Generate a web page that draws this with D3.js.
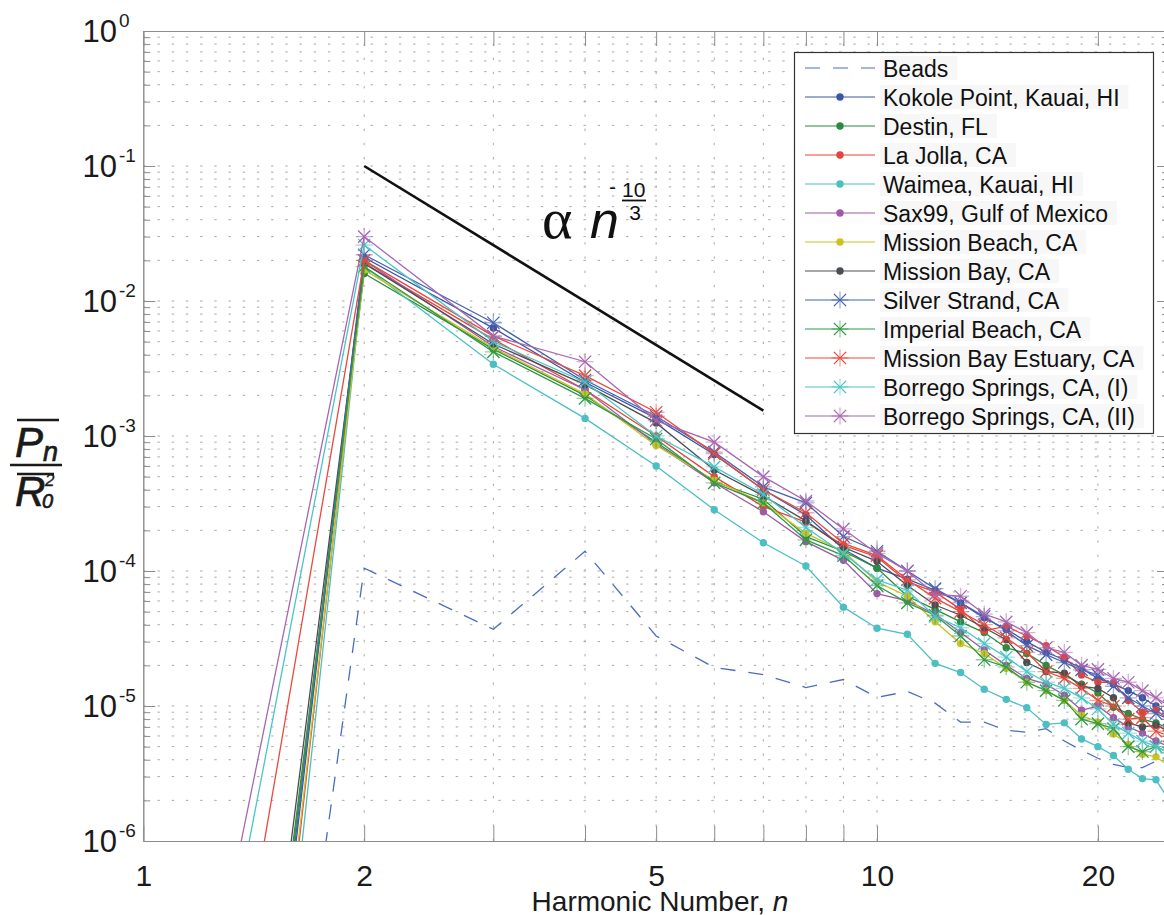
<!DOCTYPE html>
<html>
<head>
<meta charset="utf-8">
<title>Harmonic spectra</title>
<script src="https://cdn.jsdelivr.net/npm/d3@7/dist/d3.min.js"></script>
<style>
	html, body { margin: 0; padding: 0; background: #fff; }
	#chart svg { display: block; font-family: "Liberation Sans", Arial, Helvetica, sans-serif; }
</style>
</head>
<body>
<div id="chart"></div>
<script>
"use strict";

// harmonic number n
var harmonics = [1, 2, 3, 4, 5, 6, 7, 8, 9, 10, 11, 12, 13, 14, 15, 16, 17, 18, 19, 20, 21, 22, 23, 24, 25];

// mean normalised power P_n / R0^2, one list per site
var beads      = [2e-16, 1.05e-4, 3.7e-5, 1.4e-4, 3.3e-5, 1.93e-5, 1.71e-5, 1.37e-5, 1.57e-5, 1.16e-5, 1.28e-5, 1.05e-5, 7.6e-6, 7.6e-6, 6.6e-6, 6.4e-6, 6.8e-6, 5.5e-6, 4.7e-6, 4.1e-6, 3.7e-6, 3.5e-6, 3.5e-6, 3.9e-6, 3.6e-6];
var kokole     = [1.9e-16, 0.021, 6.3e-3, 2.5e-3, 1.35e-3, 7.3e-4, 4.0e-4, 2.6e-4, 1.45e-4, 1.05e-4, 8.7e-5, 7.2e-5, 5.8e-5, 4.5e-5, 3.7e-5, 3.0e-5, 2.5e-5, 2.2e-5, 1.9e-5, 1.6e-5, 1.45e-5, 1.3e-5, 1.15e-5, 1.0e-5, 8.5e-6];
var destin     = [1.3e-15, 0.016, 4.4e-3, 2.0e-3, 9.0e-4, 4.6e-4, 3.4e-4, 1.8e-4, 1.4e-4, 1.05e-4, 6.5e-5, 5.2e-5, 4.2e-5, 3.5e-5, 2.7e-5, 2.45e-5, 2.0e-5, 1.7e-5, 1.45e-5, 1.25e-5, 9.8e-6, 8.8e-6, 8.0e-6, 7.5e-6, 6.8e-6];
var laJolla    = [5.4e-17, 0.019, 5.2e-3, 2.2e-3, 1.0e-3, 5.0e-4, 3.0e-4, 2.3e-4, 1.55e-4, 1.27e-4, 8.3e-5, 7.0e-5, 5.2e-5, 3.6e-5, 3.9e-5, 3.3e-5, 2.8e-5, 2.3e-5, 1.7e-5, 1.5e-5, 1.5e-5, 1.1e-5, 9.0e-6, 9.3e-6, 8.0e-6];
var waimea     = [1.2e-17, 0.018, 3.4e-3, 1.35e-3, 6.0e-4, 2.84e-4, 1.62e-4, 1.09e-4, 5.4e-5, 3.77e-5, 3.4e-5, 2.07e-5, 1.77e-5, 1.33e-5, 1.12e-5, 9.7e-6, 7.3e-6, 7.5e-6, 5.7e-6, 5.0e-6, 4.3e-6, 3.4e-6, 2.9e-6, 2.84e-6, 2.0e-6];
var sax99      = [5.3e-16, 0.020, 4.6e-3, 2.2e-3, 8.7e-4, 4.5e-4, 2.75e-4, 1.65e-4, 1.2e-4, 6.8e-5, 6.0e-5, 4.8e-5, 3.5e-5, 2.6e-5, 2.0e-5, 1.6e-5, 1.45e-5, 1.2e-5, 9.3e-6, 1.0e-5, 8.2e-6, 7.0e-6, 6.3e-6, 5.5e-6, 5.0e-6];
var missBeach  = [1.1e-16, 0.017, 4.5e-3, 2.05e-3, 8.5e-4, 4.7e-4, 3.2e-4, 1.9e-4, 1.4e-4, 8.3e-5, 6.5e-5, 4.2e-5, 2.9e-5, 2.45e-5, 1.9e-5, 1.5e-5, 1.3e-5, 1.1e-5, 8.5e-6, 7.6e-6, 6.2e-6, 5.2e-6, 4.4e-6, 4.2e-6, 3.6e-6];
var missBay    = [2.1e-15, 0.019, 4.8e-3, 2.4e-3, 1.25e-3, 5.6e-4, 3.6e-4, 2.35e-4, 1.5e-4, 1.18e-4, 7.8e-5, 5.6e-5, 4.7e-5, 3.8e-5, 3.1e-5, 2.1e-5, 1.8e-5, 1.75e-5, 1.4e-5, 1.35e-5, 1.15e-5, 7.5e-6, 7.0e-6, 7.2e-6, 6.5e-6];
var silver     = [2.8e-16, 0.022, 6.9e-3, 2.6e-3, 1.4e-3, 7.6e-4, 4.2e-4, 3.2e-4, 1.8e-4, 1.4e-4, 1.0e-4, 7.4e-5, 5.8e-5, 4.6e-5, 3.6e-5, 2.8e-5, 2.4e-5, 2.1e-5, 1.85e-5, 1.7e-5, 1.4e-5, 1.15e-5, 1.0e-5, 8.8e-6, 8.0e-6];
var imperial   = [6.6e-16, 0.018, 4.2e-3, 1.9e-3, 9.5e-4, 4.5e-4, 3.2e-4, 1.7e-4, 1.3e-4, 7.8e-5, 5.8e-5, 4.7e-5, 3.3e-5, 2.2e-5, 1.95e-5, 1.5e-5, 1.3e-5, 1.1e-5, 8.0e-6, 7.4e-6, 6.8e-6, 5.0e-6, 4.6e-6, 5.0e-6, 4.5e-6];
var estuary    = [6e-12, 0.020, 5.5e-3, 2.8e-3, 1.5e-3, 7.4e-4, 4.0e-4, 2.7e-4, 1.6e-4, 1.3e-4, 8.6e-5, 6.3e-5, 5.0e-5, 4.0e-5, 3.2e-5, 2.5e-5, 1.8e-5, 1.6e-5, 1.35e-5, 1.1e-5, 1.0e-5, 8.0e-6, 8.2e-6, 6.5e-6, 6.0e-6];
var borregoI   = [8.5e-11, 0.026, 5.0e-3, 2.5e-3, 1.0e-3, 5.9e-4, 3.7e-4, 2.1e-4, 1.35e-4, 8.6e-5, 7.2e-5, 4.6e-5, 3.8e-5, 2.9e-5, 2.3e-5, 1.8e-5, 1.5e-5, 1.35e-5, 1.15e-5, 9.5e-6, 7.3e-6, 6.3e-6, 5.5e-6, 5.0e-6, 4.5e-6];
var borregoII  = [2.7e-10, 0.030, 5.5e-3, 3.55e-3, 1.3e-3, 9.0e-4, 5.0e-4, 3.3e-4, 2.05e-4, 1.35e-4, 1.0e-4, 6.7e-5, 6.5e-5, 4.8e-5, 4.2e-5, 3.5e-5, 2.7e-5, 2.5e-5, 2.0e-5, 1.87e-5, 1.6e-5, 1.5e-5, 1.3e-5, 1.15e-5, 1.0e-5];

var seriesNames = ["Beads", "Kokole Point, Kauai, HI", "Destin, FL", "La Jolla, CA", "Waimea, Kauai, HI",
	"Sax99, Gulf of Mexico", "Mission Beach, CA", "Mission Bay, CA", "Silver Strand, CA", "Imperial Beach, CA",
	"Mission Bay Estuary, CA", "Borrego Springs, CA, (I)", "Borrego Springs, CA, (II)"];
var seriesData = [beads, kokole, destin, laJolla, waimea, sax99, missBeach, missBay, silver, imperial, estuary, borregoI, borregoII];

// reference power law  alpha n^(-10/3), its two end points
var slopeN = [2, 7];
var slopeP = [0.1, 1.54e-3];

// tick labels
var xTickLabels = [1, 2, 5, 10, 20];
var yTickExponents = [0, -1, -2, -3, -4, -5, -6];

// ---------- styles (kept apart from the data) ----------
var seriesStyle = [
	{ color: "#4a6cc0", marker: "none", dash: "15,13" },
	{ color: "#3a55a4", marker: "dot" },
	{ color: "#2a8a3e", marker: "dot" },
	{ color: "#e8423b", marker: "dot" },
	{ color: "#4bbfc2", marker: "dot" },
	{ color: "#a159a8", marker: "dot" },
	{ color: "#c9c323", marker: "dot" },
	{ color: "#4a4e52", marker: "dot" },
	{ color: "#4463b0", marker: "star" },
	{ color: "#2f9a45", marker: "star" },
	{ color: "#ea4a3c", marker: "star" },
	{ color: "#4cc4c6", marker: "star" },
	{ color: "#a866b0", marker: "star" }
];

var width = 1164, height = 915;
var plot = { left: 143.3, right: 1169, top: 31, bottom: 841 };
var axisGray = "#8c8c8c";
var ink = "#1a1a1a";

var x = d3.scaleLog().domain([1, 25]).range([plot.left, plot.right]);
var y = d3.scaleLog().domain([1e-6, 1]).range([plot.bottom, plot.top]);

var svg = d3.select("#chart").append("svg")
	.attr("width", width)
	.attr("height", height);

svg.append("defs").append("clipPath").attr("id", "plotClip")
	.append("rect")
	.attr("x", plot.left).attr("y", plot.top)
	.attr("width", plot.right - plot.left).attr("height", plot.bottom - plot.top);

function drawGrid() {
	var grid = svg.append("g").attr("class", "grid");
	// vertical dotted lines on every log tick
	grid.selectAll("line.gx")
		.data(x.ticks().filter(function(d) { return d > 1; }))
		.enter().append("line")
		.attr("class", "gx")
		.attr("x1", function(d) { return x(d); }).attr("x2", function(d) { return x(d); })
		.attr("y1", plot.bottom).attr("y2", plot.top)
		.attr("stroke", "#a8a8a8").attr("stroke-width", 1)
		.attr("stroke-dasharray", "2.4,11.8");
	// horizontal dotted lines
	grid.selectAll("line.gy")
		.data(y.ticks().filter(function(d) { return d > 1.01e-6 && d < 0.99; }))
		.enter().append("line")
		.attr("class", "gy")
		.attr("x1", plot.left).attr("x2", plot.right)
		.attr("y1", function(d) { return y(d); }).attr("y2", function(d) { return y(d); })
		.attr("stroke", "#a8a8a8").attr("stroke-width", 1)
		.attr("stroke-dasharray", "2.4,11.8");
}

function isDecade(d) {
	var e = Math.log10(d);
	return Math.abs(e - Math.round(e)) < 1e-6;
}

function styleAxis(g) {
	g.select(".domain").attr("stroke", axisGray);
	g.selectAll(".tick line").attr("stroke", axisGray);
}

function drawAxes() {
	var xt = x.ticks();
	var yt = y.ticks();

	// bottom and top
	svg.append("g").attr("transform", "translate(0," + plot.bottom + ")")
		.call(d3.axisBottom(x).tickValues(xt).tickSize(-15).tickSizeOuter(0).tickFormat(""))
		.call(styleAxis);
	svg.append("g").attr("transform", "translate(0," + plot.top + ")")
		.call(d3.axisTop(x).tickValues(xt).tickSize(-15).tickSizeOuter(0).tickFormat(""))
		.call(styleAxis);

	// tick labels on x
	var xl = svg.append("g").attr("transform", "translate(0," + plot.bottom + ")")
		.call(d3.axisBottom(x).tickValues(xTickLabels).tickSize(0).tickPadding(24).tickFormat(d3.format("d")));
	xl.select(".domain").remove();
	xl.selectAll("text")
		.attr("font-size", 30)
		.attr("font-family", "Liberation Sans, Arial, sans-serif")
		.attr("fill", ink);

	// left and right, major ticks longer than minor
	[[plot.left, d3.axisLeft], [plot.right, d3.axisRight]].forEach(function(side) {
		svg.append("g").attr("transform", "translate(" + side[0] + ",0)")
			.call(side[1](y).tickValues(yt.filter(function(d) { return !isDecade(d); }))
				.tickSize(-7).tickSizeOuter(0).tickFormat(""))
			.call(styleAxis);
		svg.append("g").attr("transform", "translate(" + side[0] + ",0)")
			.call(side[1](y).tickValues(yt.filter(isDecade)).tickSize(-12).tickSizeOuter(0).tickFormat(""))
			.call(styleAxis);
	});

	// y tick labels as 10 with a raised exponent
	var lab = svg.append("g").attr("class", "ylabels")
		.selectAll("g").data(yTickExponents).enter().append("g")
		.attr("transform", function(e) { return "translate(0," + y(Math.pow(10, e)) + ")"; });
	lab.append("text")
		.attr("x", 117).attr("y", 11)
		.attr("text-anchor", "end")
		.attr("font-size", 31).attr("fill", ink)
		.text("10");
	lab.append("text")
		.attr("x", 119).attr("y", -4)
		.attr("font-size", 19).attr("fill", ink)
		.text(function(e) { return String(e); });

	// x title
	var xTitle = svg.append("text")
		.attr("x", 660).attr("y", 911)
		.attr("text-anchor", "middle")
		.attr("font-size", 28).attr("fill", ink);
	xTitle.append("tspan").text("Harmonic Number, ");
	xTitle.append("tspan").attr("font-style", "italic").text("n");

	// y title:  overline(P_n) / overline(R_0^2)
	var yTitle = svg.append("g").attr("class", "ytitle")
		.attr("fill", ink).attr("stroke", ink).attr("stroke-width", 0.7);
	yTitle.append("text").attr("x", 15).attr("y", 457)
		.attr("font-size", 42).attr("font-style", "italic").text("P");
	yTitle.append("text").attr("x", 43).attr("y", 461)
		.attr("font-size", 27).attr("font-style", "italic").text("n");
	yTitle.append("line").attr("x1", 17).attr("x2", 59).attr("y1", 420).attr("y2", 420)
		.attr("stroke-width", 2.4);
	yTitle.append("line").attr("x1", 10).attr("x2", 62).attr("y1", 465).attr("y2", 465)
		.attr("stroke-width", 2.4);
	yTitle.append("line").attr("x1", 17).attr("x2", 54).attr("y1", 474).attr("y2", 474)
		.attr("stroke-width", 2.4);
	yTitle.append("text").attr("x", 15).attr("y", 506)
		.attr("font-size", 42).attr("font-style", "italic").text("R");
	yTitle.append("text").attr("x", 42).attr("y", 508)
		.attr("font-size", 20).attr("font-style", "italic").text("0");
	yTitle.append("text").attr("x", 45).attr("y", 486)
		.attr("font-size", 17).attr("font-style", "italic").attr("stroke-width", 0.3).text("2");
}

function starPath(s) {
	var d = s * 0.72;
	return "M" + (-d) + "," + (-d) + "L" + d + "," + d + "M" + (-d) + "," + d + "L" + d + "," + (-d);
}
function plusPath(s) {
	return "M" + (-s) + ",0L" + s + ",0M0," + (-s) + "L0," + s;
}

function drawMarker(sel, style) {
	if (style.marker === "dot") {
		sel.append("circle").attr("r", 3.7).attr("fill", style.color);
	} else if (style.marker === "star") {
		sel.append("path").attr("d", plusPath(8.5))
			.attr("stroke", style.color).attr("stroke-width", 1.3).attr("stroke-opacity", 0.5).attr("fill", "none");
		sel.append("path").attr("d", starPath(8.5))
			.attr("stroke", style.color).attr("stroke-width", 1.3).attr("fill", "none");
	}
}

function drawSeries() {
	var layer = svg.append("g").attr("clip-path", "url(#plotClip)");
	var line = d3.line()
		.x(function(d) { return x(d[0]); })
		.y(function(d) { return y(d[1]); });

	seriesData.forEach(function(values, i) {
		var style = seriesStyle[i];
		var pts = harmonics.map(function(n, j) { return [n, values[j]]; });
		var g = layer.append("g").attr("class", "series s" + i);
		g.append("path")
			.datum(pts)
			.attr("d", line)
			.attr("fill", "none")
			.attr("stroke", style.color)
			.attr("stroke-width", 1.3)
			.attr("stroke-dasharray", style.dash || null);
		if (style.marker !== "none") {
			g.selectAll("g.m").data(pts.filter(function(p) { return p[1] >= 1e-6; }))
				.enter().append("g").attr("class", "m")
				.attr("transform", function(p) { return "translate(" + x(p[0]) + "," + y(p[1]) + ")"; })
				.each(function() { drawMarker(d3.select(this), style); });
		}
	});

	// power law guide
	layer.append("path")
		.datum(slopeN.map(function(n, j) { return [n, slopeP[j]]; }))
		.attr("d", line)
		.attr("fill", "none")
		.attr("stroke", "#111")
		.attr("stroke-width", 2.6);
}

function drawAnnotation() {
	var a = svg.append("g").attr("fill", "#111");
	a.append("text").attr("x", 542).attr("y", 238)
		.attr("font-family", "Liberation Serif, Times New Roman, serif")
		.attr("font-size", 58).text("\u03b1");
	a.append("text").attr("x", 590).attr("y", 238)
		.attr("font-size", 52).attr("font-style", "italic").text("n");
	a.append("text").attr("x", 609).attr("y", 194).attr("font-size", 21).text("-");
	a.append("text").attr("x", 622).attr("y", 197).attr("font-size", 21).text("10");
	a.append("line").attr("x1", 622).attr("x2", 646).attr("y1", 200.5).attr("y2", 200.5)
		.attr("stroke", "#111").attr("stroke-width", 1.8);
	a.append("text").attr("x", 635).attr("y", 220).attr("text-anchor", "middle")
		.attr("font-size", 21).text("3");
}

function drawLegend() {
	var box = { x: 794.5, y: 52.5, w: 359, h: 381 };
	var rowY0 = 68, rowStep = 29;
	var lg = svg.append("g").attr("class", "legend");
	lg.append("rect")
		.attr("x", box.x).attr("y", box.y).attr("width", box.w).attr("height", box.h)
		.attr("fill", "#fff").attr("stroke", "#333").attr("stroke-width", 1.2);

	var rows = lg.selectAll("g.row").data(seriesNames).enter().append("g")
		.attr("class", "row")
		.attr("transform", function(d, i) { return "translate(0," + (rowY0 + i * rowStep) + ")"; });

	var bg = rows.append("rect").attr("fill", "#f7f7f7");
	var txt = rows.append("text")
		.attr("x", 883).attr("y", 8.5)
		.attr("font-size", 23).attr("fill", "#111")
		.text(function(d) { return d; });
	bg.attr("x", 880).attr("y", -12).attr("height", 24)
		.attr("width", function(d, i) { return txt.nodes()[i].getComputedTextLength() + 12; });

	rows.each(function(d, i) {
		var style = seriesStyle[i];
		var r = d3.select(this);
		r.append("line").attr("x1", 805).attr("x2", 875).attr("y1", 0).attr("y2", 0)
			.attr("stroke", style.color).attr("stroke-width", 1.2)
			.attr("stroke-dasharray", style.dash ? "15,13" : null);
		if (style.marker !== "none") {
			drawMarker(r.append("g").attr("transform", "translate(840,0)"), style);
		}
	});
}

drawGrid();
drawSeries();
drawAxes();
drawAnnotation();
drawLegend();
</script>
</body>
</html>
